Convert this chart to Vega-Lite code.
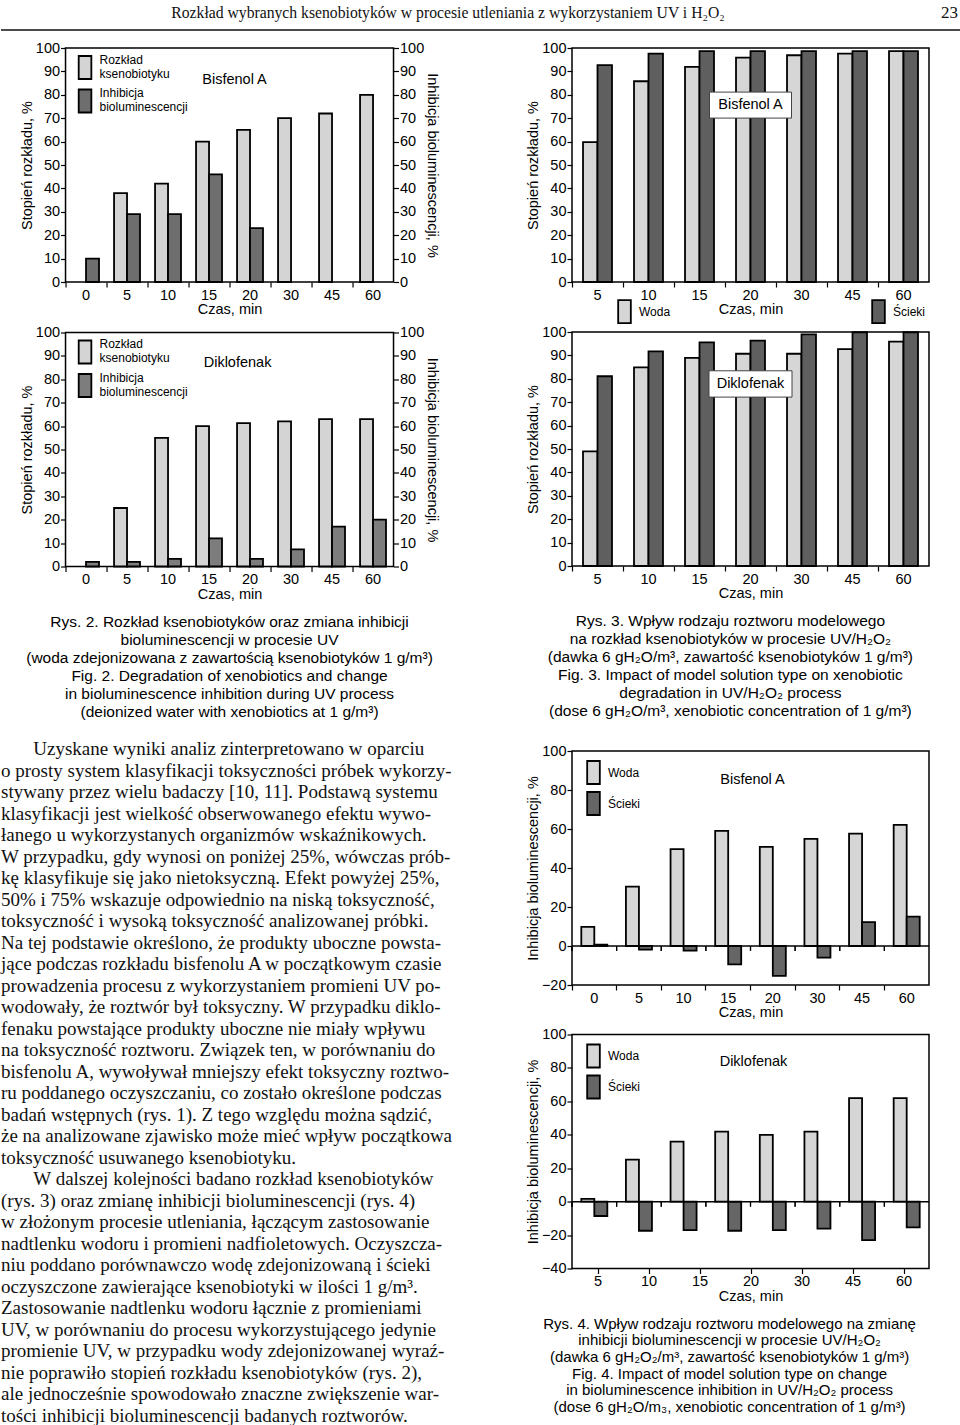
{
  "$schema": "https://vega.github.io/schema/vega-lite/v6.json",
  "padding": 0,
  "background": "white",
  "config": {
    "view": {"stroke": null},
    "font": "Liberation Sans",
    "axis": {"labelFont": "Liberation Sans", "labelFontSize": 14.5, "labelColor": "black", "titleFont": "Liberation Sans", "titleFontSize": 14.5, "titleFontWeight": "normal", "titleColor": "black", "tickColor": "black", "tickSize": 5, "tickWidth": 1.2, "domain": false, "grid": false, "labelPadding": 1, "titlePadding": 1},
    "legend": {"labelFont": "Liberation Sans", "labelColor": "black", "labelFontSize": 12, "labelOffset": 2, "symbolType": "M-0.55,-1H0.55V1H-0.55Z", "symbolSize": 529, "symbolStrokeColor": "black", "symbolStrokeWidth": 1.8, "padding": 0, "title": null},
    "text": {"font": "Liberation Sans", "color": "black"}
  },
  "datasets": {
    "f2a": [
      {"t": "0", "s": "Inhibicja bioluminescencji", "v": 10},
      {"t": "5", "s": "Rozkład ksenobiotyku", "v": 38}, {"t": "5", "s": "Inhibicja bioluminescencji", "v": 29},
      {"t": "10", "s": "Rozkład ksenobiotyku", "v": 42}, {"t": "10", "s": "Inhibicja bioluminescencji", "v": 29},
      {"t": "15", "s": "Rozkład ksenobiotyku", "v": 60}, {"t": "15", "s": "Inhibicja bioluminescencji", "v": 46},
      {"t": "20", "s": "Rozkład ksenobiotyku", "v": 65}, {"t": "20", "s": "Inhibicja bioluminescencji", "v": 23},
      {"t": "30", "s": "Rozkład ksenobiotyku", "v": 70},
      {"t": "45", "s": "Rozkład ksenobiotyku", "v": 72},
      {"t": "60", "s": "Rozkład ksenobiotyku", "v": 80}
    ],
    "f2b": [
      {"t": "0", "s": "Inhibicja bioluminescencji", "v": 2},
      {"t": "5", "s": "Rozkład ksenobiotyku", "v": 25}, {"t": "5", "s": "Inhibicja bioluminescencji", "v": 2},
      {"t": "10", "s": "Rozkład ksenobiotyku", "v": 55}, {"t": "10", "s": "Inhibicja bioluminescencji", "v": 3.3},
      {"t": "15", "s": "Rozkład ksenobiotyku", "v": 60}, {"t": "15", "s": "Inhibicja bioluminescencji", "v": 12},
      {"t": "20", "s": "Rozkład ksenobiotyku", "v": 61.3}, {"t": "20", "s": "Inhibicja bioluminescencji", "v": 3.3},
      {"t": "30", "s": "Rozkład ksenobiotyku", "v": 62}, {"t": "30", "s": "Inhibicja bioluminescencji", "v": 7.3},
      {"t": "45", "s": "Rozkład ksenobiotyku", "v": 63}, {"t": "45", "s": "Inhibicja bioluminescencji", "v": 17},
      {"t": "60", "s": "Rozkład ksenobiotyku", "v": 63}, {"t": "60", "s": "Inhibicja bioluminescencji", "v": 20}
    ],
    "f3a": [
      {"t": "5", "s": "Woda", "v": 59.8}, {"t": "5", "s": "Ścieki", "v": 92.7},
      {"t": "10", "s": "Woda", "v": 85.8}, {"t": "10", "s": "Ścieki", "v": 97.6},
      {"t": "15", "s": "Woda", "v": 91.9}, {"t": "15", "s": "Ścieki", "v": 98.7},
      {"t": "20", "s": "Woda", "v": 95.9}, {"t": "20", "s": "Ścieki", "v": 98.7},
      {"t": "30", "s": "Woda", "v": 96.9}, {"t": "30", "s": "Ścieki", "v": 98.7},
      {"t": "45", "s": "Woda", "v": 97.6}, {"t": "45", "s": "Ścieki", "v": 98.7},
      {"t": "60", "s": "Woda", "v": 98.7}, {"t": "60", "s": "Ścieki", "v": 98.7}
    ],
    "f3b": [
      {"t": "5", "s": "Woda", "v": 49}, {"t": "5", "s": "Ścieki", "v": 81.1},
      {"t": "10", "s": "Woda", "v": 84.9}, {"t": "10", "s": "Ścieki", "v": 91.7},
      {"t": "15", "s": "Woda", "v": 88.9}, {"t": "15", "s": "Ścieki", "v": 95.6},
      {"t": "20", "s": "Woda", "v": 90.7}, {"t": "20", "s": "Ścieki", "v": 96.3},
      {"t": "30", "s": "Woda", "v": 90.7}, {"t": "30", "s": "Ścieki", "v": 99},
      {"t": "45", "s": "Woda", "v": 92.7}, {"t": "45", "s": "Ścieki", "v": 99.9},
      {"t": "60", "s": "Woda", "v": 95.9}, {"t": "60", "s": "Ścieki", "v": 99.9}
    ],
    "f4a": [
      {"t": "0", "s": "Woda", "v": 9.8}, {"t": "0", "s": "Ścieki", "v": 0.7},
      {"t": "5", "s": "Woda", "v": 30.5}, {"t": "5", "s": "Ścieki", "v": -1.9},
      {"t": "10", "s": "Woda", "v": 49.7}, {"t": "10", "s": "Ścieki", "v": -2.4},
      {"t": "15", "s": "Woda", "v": 59}, {"t": "15", "s": "Ścieki", "v": -9.4},
      {"t": "20", "s": "Woda", "v": 50.8}, {"t": "20", "s": "Ścieki", "v": -15.3},
      {"t": "30", "s": "Woda", "v": 54.9}, {"t": "30", "s": "Ścieki", "v": -6},
      {"t": "45", "s": "Woda", "v": 57.6}, {"t": "45", "s": "Ścieki", "v": 12.2},
      {"t": "60", "s": "Woda", "v": 62.1}, {"t": "60", "s": "Ścieki", "v": 15.1}
    ],
    "f4b": [
      {"t": "0", "s": "Woda", "v": 1.6}, {"t": "0", "s": "Ścieki", "v": -8.6},
      {"t": "5", "s": "Woda", "v": 25.1}, {"t": "5", "s": "Ścieki", "v": -17.4},
      {"t": "10", "s": "Woda", "v": 35.9}, {"t": "10", "s": "Ścieki", "v": -17},
      {"t": "15", "s": "Woda", "v": 41.9}, {"t": "15", "s": "Ścieki", "v": -17.4},
      {"t": "20", "s": "Woda", "v": 39.9}, {"t": "20", "s": "Ścieki", "v": -17},
      {"t": "30", "s": "Woda", "v": 41.9}, {"t": "30", "s": "Ścieki", "v": -16.2},
      {"t": "45", "s": "Woda", "v": 61.9}, {"t": "45", "s": "Ścieki", "v": -23},
      {"t": "60", "s": "Woda", "v": 61.9}, {"t": "60", "s": "Ścieki", "v": -15.4}
    ],
    "f4lab": [{"t": "5"}, {"t": "10"}, {"t": "15"}, {"t": "20"}, {"t": "30"}, {"t": "45"}, {"t": "60"}]
  },
  "spacing": 8,
  "resolve": {"scale": {"color": "independent", "xOffset": "independent", "x": "independent", "y": "independent"}, "legend": {"color": "independent"}},
  "vconcat": [
    {
      "width": 960, "height": 30,
      "view": {"stroke": null},
      "layer": [
        {"data": {"values": [{"h": "Rozkład wybranych ksenobiotyków w procesie utleniania z wykorzystaniem UV i H₂O₂"}]},
         "mark": {"type": "text", "font": "Liberation Serif", "fontSize": 15.7, "baseline": "middle", "align": "center", "dx": -33, "dy": -2, "color": "#111"},
         "encoding": {"text": {"field": "h", "type": "nominal"}}},
        {"data": {"values": [{"p": "23"}]},
         "mark": {"type": "text", "font": "Liberation Serif", "fontSize": 17, "baseline": "middle", "align": "right", "dx": -3, "dy": -2, "color": "#111"},
         "encoding": {"text": {"field": "p", "type": "nominal"}, "x": {"datum": 1, "type": "quantitative", "scale": {"domain": [0, 1]}, "axis": null}}},
        {"data": {"values": [{}]},
         "mark": {"type": "rule", "strokeWidth": 1.5, "color": "#111"},
         "encoding": {"y": {"datum": 0, "type": "quantitative", "scale": {"domain": [0, 1]}, "axis": null}}}
      ]
    },
    {
      "spacing": 19,
      "resolve": {"scale": {"color": "independent", "xOffset": "independent", "x": "independent", "y": "independent"}, "legend": {"color": "independent"}},
      "hconcat": [
        {
          "spacing": 19,
          "center": true,
          "resolve": {"scale": {"color": "independent", "xOffset": "independent", "x": "independent", "y": "independent"}, "legend": {"color": "independent"}},
          "vconcat": [
            {
              "spacing": 6.5,
              "resolve": {"scale": {"color": "independent", "xOffset": "independent", "x": "independent", "y": "independent"}, "legend": {"color": "independent"}},
              "vconcat": [
                {
                  "width": 328, "height": 234,
                  "view": {"stroke": "black", "strokeWidth": 1.5},
                  "data": {"name": "f2a"},
                  "layer": [
                    {"mark": {"type": "bar", "stroke": "black", "strokeWidth": 1.8},
                     "encoding": {
                       "x": {"field": "t", "type": "nominal", "title": "Czas, min", "scale": {"domain": ["0", "5", "10", "15", "20", "30", "45", "60"], "paddingInner": 0, "paddingOuter": 0}, "axis": {"labelAngle": 0, "bandPosition": 0}},
                       "xOffset": {"field": "s", "type": "nominal", "scale": {"domain": ["Rozkład ksenobiotyku", "Inhibicja bioluminescencji"], "paddingInner": 0, "paddingOuter": 0.58}},
                       "y": {"field": "v", "type": "quantitative", "title": "Stopień rozkładu, %", "scale": {"domain": [0, 100], "nice": false}, "axis": {"values": [0, 10, 20, 30, 40, 50, 60, 70, 80, 90, 100]}},
                       "color": {"field": "s", "type": "nominal", "scale": {"domain": ["Rozkład ksenobiotyku", "Inhibicja bioluminescencji"], "range": ["#d4d4d4", "#6e6e6e"]},
                                 "legend": {"orient": "top-left", "offset": 7, "labelExpr": "split(datum.label, ' ')", "labelBaseline": "line-bottom", "rowPadding": 2.5}}
                     }},
                    {"mark": {"type": "point", "opacity": 0},
                     "encoding": {"y": {"field": "v", "type": "quantitative", "title": "Inhibicja bioluminescencji, %", "axis": {"orient": "right", "values": [0, 10, 20, 30, 40, 50, 60, 70, 80, 90, 100]}}}},
                    {"data": {"values": [{"label": "Bisfenol A"}]},
                     "mark": {"type": "text", "fontSize": 14.5, "dx": 5},
                     "encoding": {"text": {"field": "label", "type": "nominal"}, "y": {"datum": 86.3, "type": "quantitative", "axis": null}}}
                  ],
                  "resolve": {"axis": {"y": "independent"}}
                },
                {
                  "width": 328, "height": 234,
                  "view": {"stroke": "black", "strokeWidth": 1.5},
                  "data": {"name": "f2b"},
                  "title": {"text": ["Rys. 2. Rozkład ksenobiotyków oraz zmiana inhibicji", "bioluminescencji w procesie UV", "(woda zdejonizowana z zawartością ksenobiotyków 1 g/m³)", "Fig. 2. Degradation of xenobiotics and change", "in bioluminescence inhibition during UV process", "(deionized water with xenobiotics at 1 g/m³)"],
                            "orient": "bottom", "anchor": "middle", "frame": "bounds", "offset": 14, "font": "Liberation Sans", "fontSize": 15.5, "fontWeight": "normal", "lineHeight": 18, "color": "black", "baseline": "top"},
                  "layer": [
                    {"mark": {"type": "bar", "stroke": "black", "strokeWidth": 1.8},
                     "encoding": {
                       "x": {"field": "t", "type": "nominal", "title": "Czas, min", "scale": {"domain": ["0", "5", "10", "15", "20", "30", "45", "60"], "paddingInner": 0, "paddingOuter": 0}, "axis": {"labelAngle": 0, "bandPosition": 0}},
                       "xOffset": {"field": "s", "type": "nominal", "scale": {"domain": ["Rozkład ksenobiotyku", "Inhibicja bioluminescencji"], "paddingInner": 0, "paddingOuter": 0.58}},
                       "y": {"field": "v", "type": "quantitative", "title": "Stopień rozkładu, %", "scale": {"domain": [0, 100], "nice": false}, "axis": {"values": [0, 10, 20, 30, 40, 50, 60, 70, 80, 90, 100]}},
                       "color": {"field": "s", "type": "nominal", "scale": {"domain": ["Rozkład ksenobiotyku", "Inhibicja bioluminescencji"], "range": ["#d4d4d4", "#7d7d7d"]},
                                 "legend": {"orient": "top-left", "offset": 7, "labelExpr": "split(datum.label, ' ')", "labelBaseline": "line-bottom", "rowPadding": 2.5}}
                     }},
                    {"mark": {"type": "point", "opacity": 0},
                     "encoding": {"y": {"field": "v", "type": "quantitative", "title": "Inhibicja bioluminescencji, %", "axis": {"orient": "right", "values": [0, 10, 20, 30, 40, 50, 60, 70, 80, 90, 100]}}}},
                    {"data": {"values": [{"label": "Diklofenak"}]},
                     "mark": {"type": "text", "fontSize": 14.5, "dx": 8},
                     "encoding": {"text": {"field": "label", "type": "nominal"}, "y": {"datum": 86.8, "type": "quantitative", "axis": null}}}
                  ],
                  "resolve": {"axis": {"y": "independent"}}
                }
              ]
            },
            {
              "width": 504, "height": 600,
              "view": {"stroke": null, "fill": "white"},
              "data": {"values": [{"body": "\u200b\u2003\u2002\u2009Uzyskane wyniki analiz zinterpretowano w oparciu\no prosty system klasyfikacji toksyczności próbek wykorzy-\nstywany przez wielu badaczy [10, 11]. Podstawą systemu\nklasyfikacji jest wielkość obserwowanego efektu wywo-\nłanego u wykorzystanych organizmów wskaźnikowych.\nW przypadku, gdy wynosi on poniżej 25%, wówczas prób-\nkę klasyfikuje się jako nietoksyczną. Efekt powyżej 25%,\n50% i 75% wskazuje odpowiednio na niską toksyczność,\ntoksyczność i wysoką toksyczność analizowanej próbki.\nNa tej podstawie określono, że produkty uboczne powsta-\njące podczas rozkładu bisfenolu A w początkowym czasie\nprowadzenia procesu z wykorzystaniem promieni UV po-\nwodowały, że roztwór był toksyczny. W przypadku diklo-\nfenaku powstające produkty uboczne nie miały wpływu\nna toksyczność roztworu. Związek ten, w porównaniu do\nbisfenolu A, wywoływał mniejszy efekt toksyczny roztwo-\nru poddanego oczyszczaniu, co zostało określone podczas\nbadań wstępnych (rys. 1). Z tego względu można sądzić,\nże na analizowane zjawisko może mieć wpływ początkowa\ntoksyczność usuwanego ksenobiotyku.\n\u200b\u2003\u2002\u2009W dalszej kolejności badano rozkład ksenobiotyków\n(rys. 3) oraz zmianę inhibicji bioluminescencji (rys. 4)\nw złożonym procesie utleniania, łączącym zastosowanie\nnadtlenku wodoru i promieni nadfioletowych. Oczyszcza-\nniu poddano porównawczo wodę zdejonizowaną i ścieki\noczyszczone zawierające ksenobiotyki w ilości 1 g/m³.\nZastosowanie nadtlenku wodoru łącznie z promieniami\nUV, w porównaniu do procesu wykorzystującego jedynie\npromienie UV, w przypadku wody zdejonizowanej wyraź-\nnie poprawiło stopień rozkładu ksenobiotyków (rys. 2),\nale jednocześnie spowodowało znaczne zwiększenie war-\ntości inhibicji bioluminescencji badanych roztworów."}]},
              "mark": {"type": "text", "font": "Liberation Serif", "fontSize": 19, "lineHeight": 21.5, "lineBreak": "\n", "align": "left", "baseline": "top", "color": "#111"},
              "encoding": {
                "text": {"field": "body", "type": "nominal"},
                "x": {"datum": 0, "type": "quantitative", "scale": {"domain": [0, 1]}, "axis": null},
                "y": {"datum": 1, "type": "quantitative", "scale": {"domain": [0, 1]}, "axis": null}
              }
            }
          ]
        },
        {
          "spacing": 21,
          "resolve": {"scale": {"color": "independent", "xOffset": "independent", "x": "independent", "y": "independent"}, "legend": {"color": "independent"}},
          "vconcat": [
            {
              "spacing": -5,
              "resolve": {"scale": {"color": "independent", "xOffset": "independent", "x": "independent", "y": "independent"}, "legend": {"color": "independent"}},
              "vconcat": [
                {
                  "width": 357, "height": 234,
                  "view": {"stroke": "black", "strokeWidth": 1.5},
                  "data": {"name": "f3a"},
                  "layer": [
                    {"mark": {"type": "bar", "stroke": "black", "strokeWidth": 1.8},
                     "encoding": {
                       "x": {"field": "t", "type": "nominal", "title": "Czas, min", "scale": {"domain": ["5", "10", "15", "20", "30", "45", "60"], "paddingInner": 0, "paddingOuter": 0}, "axis": {"labelAngle": 0, "bandPosition": 0}},
                       "xOffset": {"field": "s", "type": "nominal", "scale": {"domain": ["Woda", "Ścieki"], "paddingInner": 0, "paddingOuter": 0.76}},
                       "y": {"field": "v", "type": "quantitative", "title": "Stopień rozkładu, %", "scale": {"domain": [0, 100], "nice": false}, "axis": {"values": [0, 10, 20, 30, 40, 50, 60, 70, 80, 90, 100]}},
                       "color": {"field": "s", "type": "nominal", "scale": {"domain": ["Woda", "Ścieki"], "range": ["#d6d6d6", "#5f5f5f"]},
                                 "legend": {"orient": "none", "legendX": 40, "legendY": 251, "direction": "horizontal", "columnPadding": 195}}
                     }},
                    {"data": {"values": [{"label": "Bisfenol A"}]},
                     "mark": {"type": "point", "shape": "M-1,-0.317H1V0.317H-1Z", "size": 6724, "filled": true, "fill": "white", "stroke": "#444", "strokeWidth": 1, "opacity": 1},
                     "encoding": {"y": {"datum": 75.6, "type": "quantitative", "axis": null}}},
                    {"data": {"values": [{"label": "Bisfenol A"}]},
                     "mark": {"type": "text", "fontSize": 14.5},
                     "encoding": {"text": {"field": "label", "type": "nominal"}, "y": {"datum": 75.6, "type": "quantitative", "axis": null}}}
                  ],
                  "resolve": {"axis": {"y": "independent"}}
                },
                {
                  "width": 357, "height": 234,
                  "view": {"stroke": "black", "strokeWidth": 1.5},
                  "data": {"name": "f3b"},
                  "title": {"text": ["Rys. 3. Wpływ rodzaju roztworu modelowego", "na rozkład ksenobiotyków w procesie UV/H₂O₂", "(dawka 6 gH₂O/m³, zawartość ksenobiotyków 1 g/m³)", "Fig. 3. Impact of model solution type on xenobiotic", "degradation in UV/H₂O₂ process", "(dose 6 gH₂O/m³, xenobiotic concentration of 1 g/m³)"],
                            "orient": "bottom", "anchor": "middle", "frame": "bounds", "offset": 14, "dx": 3, "font": "Liberation Sans", "fontSize": 15.5, "fontWeight": "normal", "lineHeight": 18, "color": "black", "baseline": "top"},
                  "layer": [
                    {"mark": {"type": "bar", "stroke": "black", "strokeWidth": 1.8},
                     "encoding": {
                       "x": {"field": "t", "type": "nominal", "title": "Czas, min", "scale": {"domain": ["5", "10", "15", "20", "30", "45", "60"], "paddingInner": 0, "paddingOuter": 0}, "axis": {"labelAngle": 0, "bandPosition": 0}},
                       "xOffset": {"field": "s", "type": "nominal", "scale": {"domain": ["Woda", "Ścieki"], "paddingInner": 0, "paddingOuter": 0.76}},
                       "y": {"field": "v", "type": "quantitative", "title": "Stopień rozkładu, %", "scale": {"domain": [0, 100], "nice": false}, "axis": {"values": [0, 10, 20, 30, 40, 50, 60, 70, 80, 90, 100]}},
                       "color": {"field": "s", "type": "nominal", "scale": {"domain": ["Woda", "Ścieki"], "range": ["#d6d6d6", "#5f5f5f"]}, "legend": null}
                     }},
                    {"data": {"values": [{"label": "Diklofenak"}]},
                     "mark": {"type": "point", "shape": "M-1,-0.317H1V0.317H-1Z", "size": 6889, "filled": true, "fill": "white", "stroke": "#444", "strokeWidth": 1, "opacity": 1},
                     "encoding": {"y": {"datum": 77.8, "type": "quantitative", "axis": null}}},
                    {"data": {"values": [{"label": "Diklofenak"}]},
                     "mark": {"type": "text", "fontSize": 14.5},
                     "encoding": {"text": {"field": "label", "type": "nominal"}, "y": {"datum": 77.8, "type": "quantitative", "axis": null}}}
                  ],
                  "resolve": {"axis": {"y": "independent"}}
                }
              ]
            },
            {
              "spacing": 5.5,
              "resolve": {"scale": {"color": "independent", "xOffset": "independent", "x": "independent", "y": "independent"}, "legend": {"color": "independent"}},
              "vconcat": [
                {
                  "width": 357, "height": 234,
                  "view": {"stroke": "black", "strokeWidth": 1.5},
                  "data": {"name": "f4a"},
                  "layer": [
                    {"mark": {"type": "bar", "stroke": "black", "strokeWidth": 1.8},
                     "encoding": {
                       "x": {"field": "t", "type": "nominal", "title": "Czas, min", "scale": {"domain": ["0", "5", "10", "15", "20", "30", "45", "60"], "paddingInner": 0, "paddingOuter": 0}, "axis": {"labelAngle": 0, "bandPosition": 0}},
                       "xOffset": {"field": "s", "type": "nominal", "scale": {"domain": ["Woda", "Ścieki"], "paddingInner": 0, "paddingOuter": 0.715}},
                       "y": {"field": "v", "type": "quantitative", "title": "Inhibicja bioluminescencji, %", "scale": {"domain": [-20, 100], "nice": false}, "axis": {"values": [-20, 0, 20, 40, 60, 80, 100]}},
                       "color": {"field": "s", "type": "nominal", "scale": {"domain": ["Woda", "Ścieki"], "range": ["#d6d6d6", "#666666"]},
                                 "legend": {"orient": "top-left", "offset": 9, "rowPadding": 0}}
                     }},
                    {"data": {"values": [{}]},
                     "mark": {"type": "rule", "strokeWidth": 1.5, "color": "black"},
                     "encoding": {"y": {"datum": 0, "type": "quantitative", "axis": null}}},
                    {"mark": {"type": "rule", "strokeWidth": 1.2, "color": "black"},
                     "encoding": {
                       "x": {"field": "t", "type": "nominal", "title": "Czas, min", "bandPosition": 0},
                       "y": {"datum": 0, "type": "quantitative", "axis": null},
                       "y2": {"datum": -2.5}
                     }},
                    {"data": {"values": [{"label": "Bisfenol A"}]},
                     "mark": {"type": "text", "fontSize": 14.5, "dx": 2},
                     "encoding": {"text": {"field": "label", "type": "nominal"}, "y": {"datum": 85.1, "type": "quantitative", "axis": null}}}
                  ],
                  "resolve": {"axis": {"y": "independent"}}
                },
                {
                  "width": 357, "height": 234,
                  "view": {"stroke": "black", "strokeWidth": 1.5},
                  "data": {"name": "f4b"},
                  "title": {"text": ["Rys. 4. Wpływ rodzaju roztworu modelowego na zmianę", "inhibicji bioluminescencji w procesie UV/H₂O₂", "(dawka 6 gH₂O₂/m³, zawartość ksenobiotyków 1 g/m³)", "Fig. 4. Impact of model solution type on change", "in bioluminescence inhibition in UV/H₂O₂ process", "(dose 6 gH₂O/m₃, xenobiotic concentration of 1 g/m³)"],
                            "orient": "bottom", "anchor": "middle", "frame": "bounds", "offset": 14, "dx": 2, "font": "Liberation Sans", "fontSize": 15, "fontWeight": "normal", "lineHeight": 16.7, "color": "black", "baseline": "top"},
                  "layer": [
                    {"mark": {"type": "bar", "stroke": "black", "strokeWidth": 1.8},
                     "encoding": {
                       "x": {"field": "t", "type": "nominal", "scale": {"domain": ["0", "5", "10", "15", "20", "30", "45", "60"], "paddingInner": 0, "paddingOuter": 0}, "axis": null},
                       "xOffset": {"field": "s", "type": "nominal", "scale": {"domain": ["Woda", "Ścieki"], "paddingInner": 0, "paddingOuter": 0.715}},
                       "y": {"field": "v", "type": "quantitative", "title": "Inhibicja bioluminescencji, %", "scale": {"domain": [-40, 100], "nice": false}, "axis": {"values": [-40, -20, 0, 20, 40, 60, 80, 100]}},
                       "color": {"field": "s", "type": "nominal", "scale": {"domain": ["Woda", "Ścieki"], "range": ["#d6d6d6", "#666666"]},
                                 "legend": {"orient": "top-left", "offset": 9, "rowPadding": 0}}
                     }},
                    {"data": {"values": [{}]},
                     "mark": {"type": "rule", "strokeWidth": 1.5, "color": "black"},
                     "encoding": {"y": {"datum": 0, "type": "quantitative", "axis": null}}},
                    {"mark": {"type": "rule", "strokeWidth": 1.2, "color": "black"},
                     "encoding": {
                       "x": {"field": "t", "type": "nominal", "bandPosition": 0, "scale": {"domain": ["0", "5", "10", "15", "20", "30", "45", "60"], "paddingInner": 0, "paddingOuter": 0}, "axis": null},
                       "y": {"datum": 0, "type": "quantitative", "axis": null},
                       "y2": {"datum": -3}
                     }},
                    {"data": {"name": "f4lab"},
                     "mark": {"type": "point", "opacity": 0},
                     "encoding": {
                       "x": {"field": "t", "type": "nominal", "title": "Czas, min", "scale": {"domain": ["5", "10", "15", "20", "30", "45", "60"], "paddingInner": 0, "paddingOuter": 0}, "axis": {"orient": "bottom", "labelAngle": 0, "bandPosition": 0}}
                     }},
                    {"data": {"values": [{"label": "Diklofenak"}]},
                     "mark": {"type": "text", "fontSize": 14.5, "dx": 3},
                     "encoding": {"text": {"field": "label", "type": "nominal"}, "y": {"datum": 83.8, "type": "quantitative", "axis": null}}}
                  ],
                  "resolve": {"scale": {"x": "independent"}, "axis": {"x": "independent", "y": "independent"}}
                }
              ]
            }
          ]
        }
      ]
    }
  ]
}
